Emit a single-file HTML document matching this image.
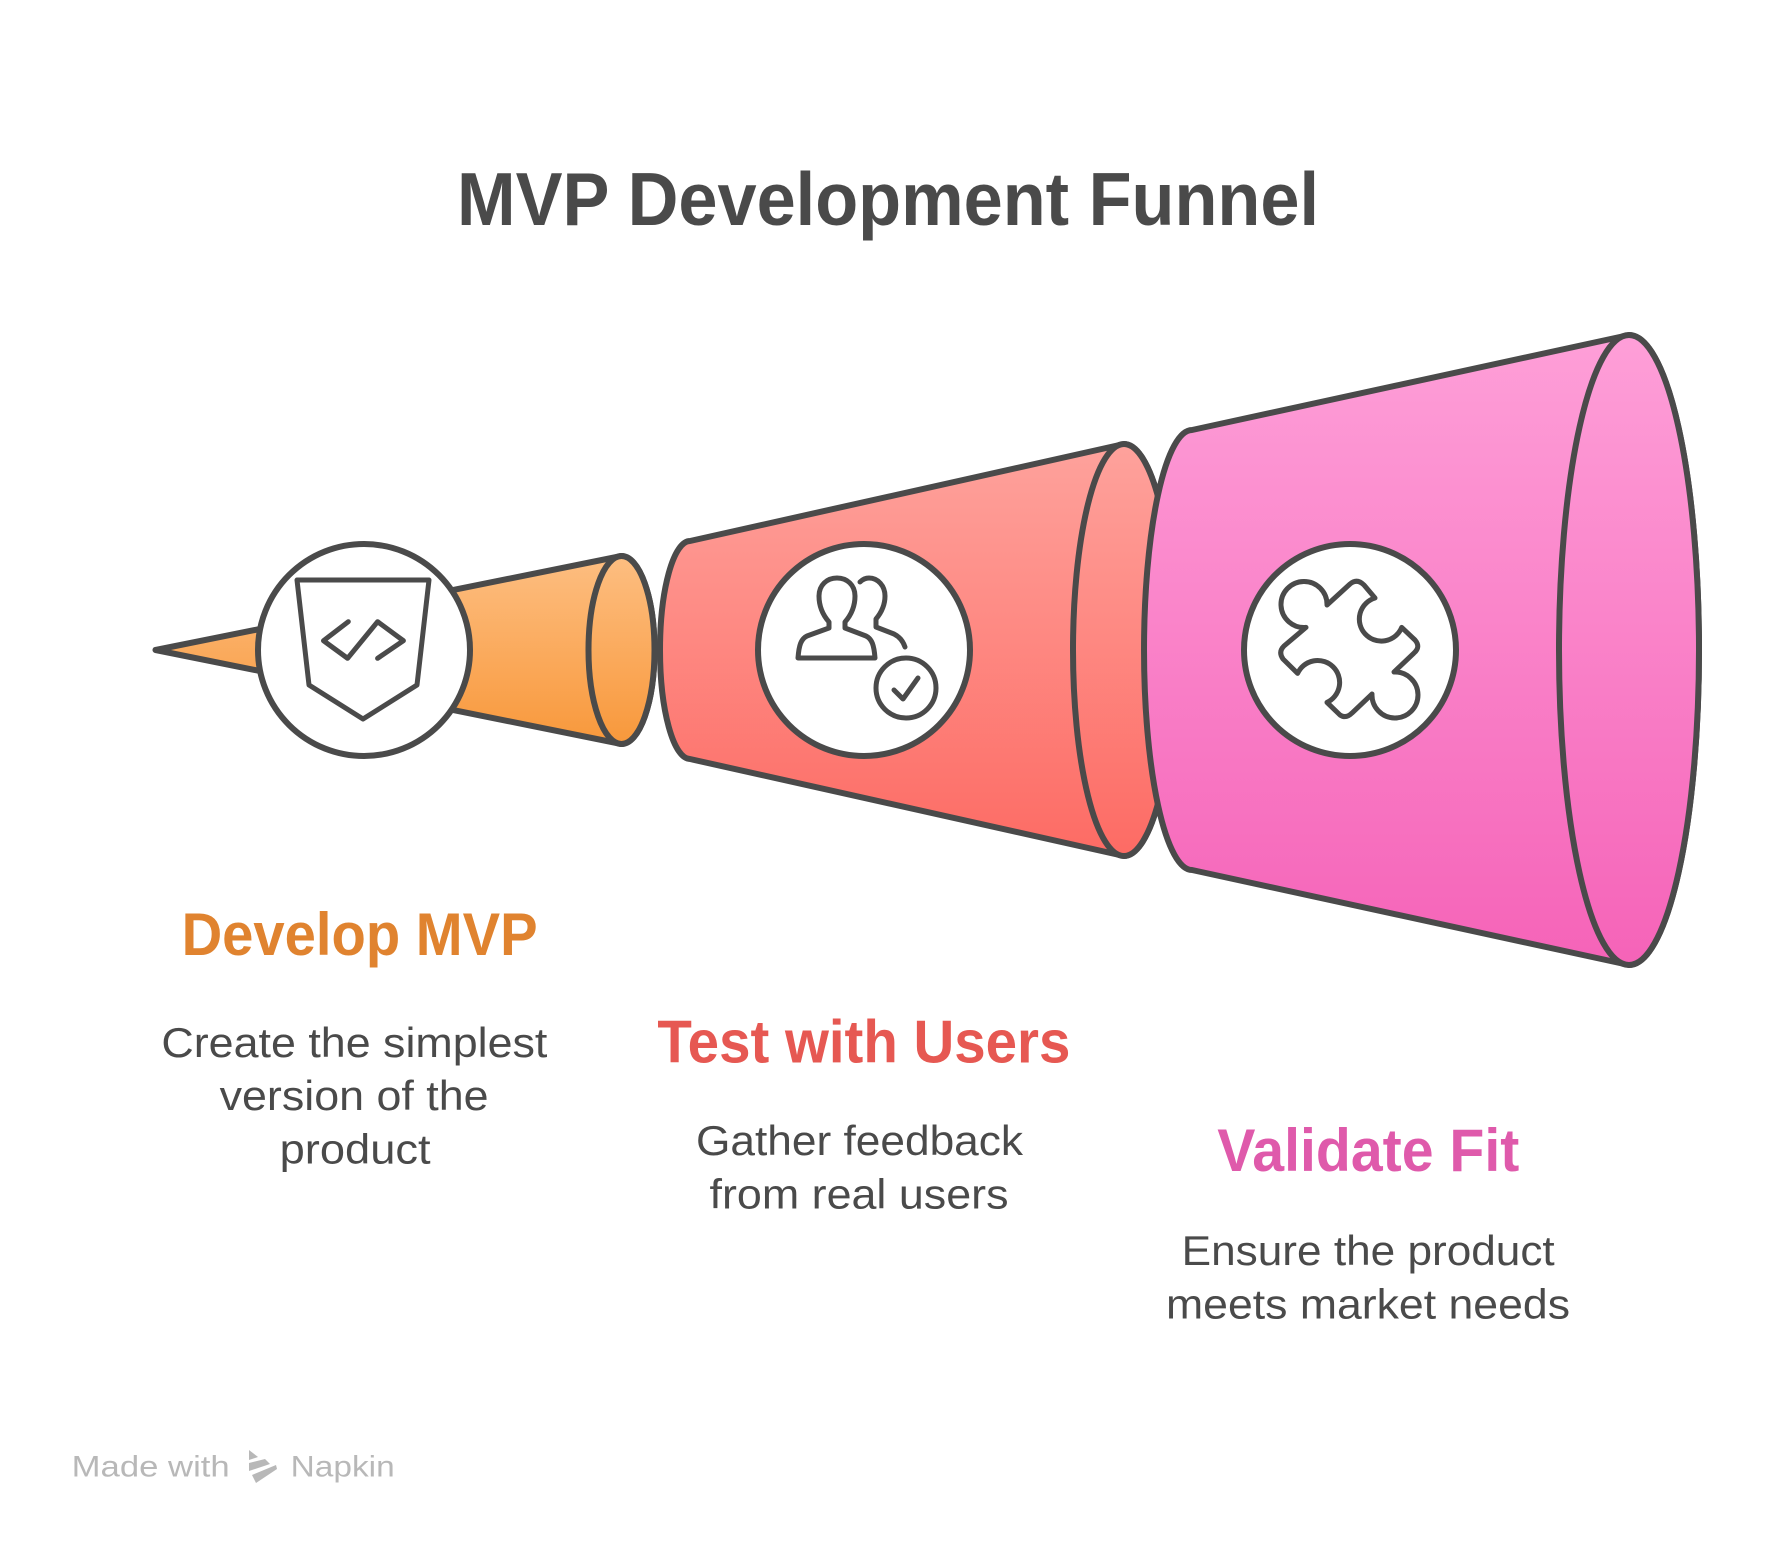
<!DOCTYPE html>
<html>
<head>
<meta charset="utf-8">
<style>
  html, body { margin: 0; padding: 0; background: #ffffff; }
  body { width: 1776px; height: 1548px; overflow: hidden; }
  svg { display: block; }
  text { font-family: "Liberation Sans", "DejaVu Sans", sans-serif; }
</style>
</head>
<body>
<svg width="1776" height="1548" viewBox="0 0 1776 1548" xmlns="http://www.w3.org/2000/svg">
  <defs>
    <linearGradient id="gO" gradientUnits="userSpaceOnUse" x1="0" y1="556" x2="0" y2="744">
      <stop offset="0" stop-color="#fdbe81"/>
      <stop offset="1" stop-color="#f8983b"/>
    </linearGradient>
    <linearGradient id="gR" gradientUnits="userSpaceOnUse" x1="0" y1="444" x2="0" y2="856">
      <stop offset="0" stop-color="#fea29c"/>
      <stop offset="1" stop-color="#fd6b64"/>
    </linearGradient>
    <linearGradient id="gP" gradientUnits="userSpaceOnUse" x1="0" y1="335" x2="0" y2="965">
      <stop offset="0" stop-color="#fe9fd8"/>
      <stop offset="1" stop-color="#f563b8"/>
    </linearGradient>
  </defs>

  <rect x="0" y="0" width="1776" height="1548" fill="#ffffff"/>

  <!-- Title -->
  <text x="457" y="225" font-size="75" font-weight="bold" fill="#4a4a4a" textLength="862" lengthAdjust="spacingAndGlyphs">MVP Development Funnel</text>

  <g stroke="#4a4a4a" stroke-width="6" stroke-linejoin="round" stroke-linecap="round">
    <!-- Orange cone -->
    <path d="M 155.5 650 L 621.5 556 A 33 94 0 0 1 621.5 744 Z" fill="url(#gO)"/>
    <ellipse cx="621.5" cy="650" rx="33" ry="94" fill="url(#gO)"/>

    <!-- Red cone -->
    <path d="M 690 541 L 1124 444 A 51 206 0 0 1 1124 856 L 690 759 A 30 109 0 0 1 690 541 Z" fill="url(#gR)"/>
    <ellipse cx="1124" cy="650" rx="51" ry="206" fill="url(#gR)"/>

    <!-- Pink cone -->
    <path d="M 1192 430 L 1629 335 A 70 315 0 0 1 1629 965 L 1192 870 A 48 220 0 0 1 1192 430 Z" fill="url(#gP)"/>
    <ellipse cx="1629" cy="650" rx="70" ry="315" fill="url(#gP)"/>

    <!-- Circles -->
    <circle cx="364" cy="650" r="106" fill="#ffffff"/>
    <circle cx="864" cy="650" r="106" fill="#ffffff"/>
    <circle cx="1350" cy="650" r="106" fill="#ffffff"/>
  </g>

  <!-- Icons -->
  <g stroke="#4a4a4a" stroke-width="5" stroke-linejoin="round" stroke-linecap="round" fill="none">
    <!-- Shield code icon -->
    <path d="M 297 580 L 429 580 L 417 685 L 363 719 L 309 685 Z" fill="#ffffff"/>
    <path d="M 348.3 621.7 L 323.5 640.7 L 347.6 658.3 L 377.6 621.7 L 403.4 640.7 L 377.6 658.3"/>

    <!-- Users with check icon -->
    <path d="M 829 622 C 822 614 819 606 819 596 C 819 585 827 578 837 578 C 847 578 855 585 855 596 C 855 606 852 614 845 622 L 845 628 L 866 636 C 872 639 874 645 875 658 L 798 658 C 799 645 801 639 807 636 L 829 628 Z" fill="#ffffff"/>
    <path d="M 860 582 C 863 579 866 578 869 578 C 878 578 885 586 885 596 C 885 606 881 613 876 619 L 876 627 L 894 634 C 900 637 903 641 905 647"/>
    <circle cx="906" cy="688" r="30" fill="#ffffff"/>
    <path d="M 894 690 L 903 699 L 918 678"/>

    <!-- Puzzle icon -->
    <path d="M 1306 627.4 A 23 23 0 1 1 1327 605 L 1350 584 Q 1357 578 1364 585 L 1375 598 A 22 22 0 1 0 1401.7 627.4 L 1415 640 Q 1421 647 1414 653 L 1394 672 A 23 23 0 1 1 1372 694 L 1352 713 Q 1346 719 1340 715 L 1327 702.4 A 22 22 0 1 0 1297.6 673.4 L 1283 659 Q 1278 652 1284 646 Z" fill="#ffffff"/>
  </g>

  <!-- Develop MVP column -->
  <text x="181.6" y="955" font-size="60" font-weight="bold" fill="#e0832f" textLength="356" lengthAdjust="spacingAndGlyphs">Develop MVP</text>
  <text x="161.4" y="1057" font-size="42" fill="#4a4a4a" textLength="386" lengthAdjust="spacingAndGlyphs">Create the simplest</text>
  <text x="219.6" y="1110" font-size="42" fill="#4a4a4a" textLength="269" lengthAdjust="spacingAndGlyphs">version of the</text>
  <text x="279.6" y="1163.3" font-size="42" fill="#4a4a4a" textLength="151" lengthAdjust="spacingAndGlyphs">product</text>

  <!-- Test with Users column -->
  <text x="657.4" y="1062.7" font-size="60" font-weight="bold" fill="#e65852" textLength="413" lengthAdjust="spacingAndGlyphs">Test with Users</text>
  <text x="696" y="1155" font-size="42" fill="#4a4a4a" textLength="327" lengthAdjust="spacingAndGlyphs">Gather feedback</text>
  <text x="709.5" y="1208.3" font-size="42" fill="#4a4a4a" textLength="299" lengthAdjust="spacingAndGlyphs">from real users</text>

  <!-- Validate Fit column -->
  <text x="1217.3" y="1171" font-size="60" font-weight="bold" fill="#df5aab" textLength="302" lengthAdjust="spacingAndGlyphs">Validate Fit</text>
  <text x="1181.7" y="1265" font-size="42" fill="#4a4a4a" textLength="373" lengthAdjust="spacingAndGlyphs">Ensure the product</text>
  <text x="1166" y="1318.3" font-size="42" fill="#4a4a4a" textLength="404" lengthAdjust="spacingAndGlyphs">meets market needs</text>

  <!-- Footer -->
  <text x="71.7" y="1476.7" font-size="30" fill="#b8b8b8" textLength="158" lengthAdjust="spacingAndGlyphs">Made with</text>
  <g fill="#b8b8b8">
    <polygon points="249,1450 258,1457 249,1460"/>
    <polygon points="249,1463 265,1459 270,1464 249,1471"/>
    <polygon points="252,1475 276,1465 277,1469 256,1483"/>
  </g>
  <text x="290.7" y="1476.7" font-size="30" fill="#b8b8b8" textLength="104" lengthAdjust="spacingAndGlyphs">Napkin</text>
</svg>
</body>
</html>
